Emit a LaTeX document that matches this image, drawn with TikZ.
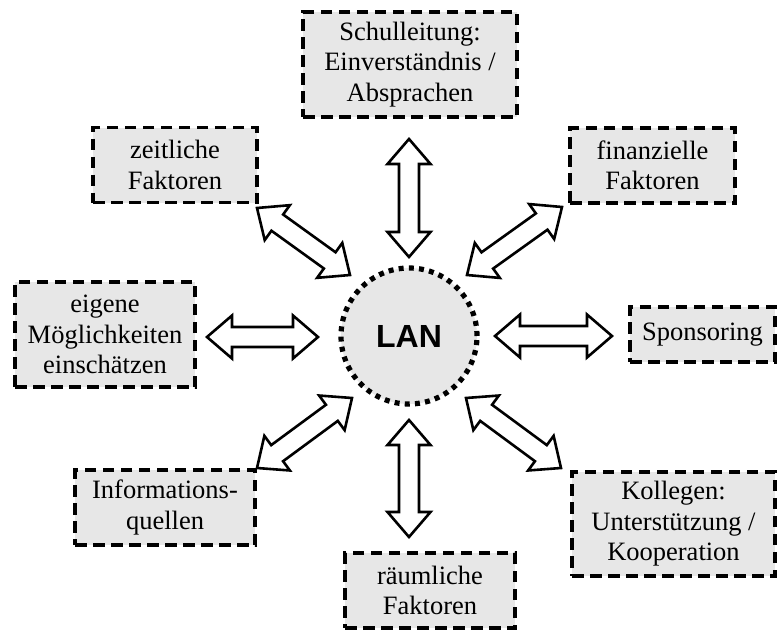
\documentclass[tikz,border=0pt]{standalone}
\usepackage{fontspec}
\setmainfont{Liberation Serif}
\newfontfamily\lansans{Liberation Sans}
\usetikzlibrary{calc}
\definecolor{boxgray}{HTML}{E7E7E7}
\tikzset{
 box/.style={draw, fill=boxgray, line width=3.1pt, dash pattern=on 11.5pt off 6.5pt, align=center, inner sep=0pt, font=\fontsize{26.5}{30.5}\selectfont},
 hub/.style={circle, draw, fill=boxgray, line width=5.2pt, dash pattern=on 5pt off 5.2pt, minimum size=136pt, inner sep=0pt, font=\lansans\bfseries\fontsize{32}{38}\selectfont},
 blk/.style={draw, fill=white, line width=2.6pt, line join=miter}
}
\newcommand\dblblk[2]{%
 \draw[blk] (#1) -- ($(#1)!25pt!(#2)!21.5pt!90:(#2)$) -- ($(#1)!25pt!(#2)!10pt!90:(#2)$) -- ($(#2)!25pt!(#1)!10pt!-90:(#1)$) -- ($(#2)!25pt!(#1)!21.5pt!-90:(#1)$) -- (#2) -- ($(#2)!25pt!(#1)!21.5pt!90:(#1)$) -- ($(#2)!25pt!(#1)!10pt!90:(#1)$) -- ($(#1)!25pt!(#2)!10pt!-90:(#2)$) -- ($(#1)!25pt!(#2)!21.5pt!-90:(#2)$) -- cycle;}
\begin{document}
\begin{tikzpicture}[x=1pt,y=-1pt]
\useasboundingbox (0,0) rectangle (777,635);
\node[hub] (lan) at (409,336) {LAN};
\node[box, minimum width=214pt, minimum height=105pt] (schul) at (410,64.5) {Schulleitung:\\Einverständnis /\\Absprachen};
\node[box, minimum width=164pt, minimum height=75pt] (zeit) at (175,165) {zeitliche\\Faktoren};
\node[box, minimum width=165pt, minimum height=75pt] (finanz) at (652.5,165.5) {finanzielle\\Faktoren};
\node[box, minimum width=180pt, minimum height=105pt] (eigen) at (105,334.5) {eigene\\Möglichkeiten\\einschätzen};
\node[box, minimum width=145pt, minimum height=55pt] (spons) at (702.5,334.5) {Sponsoring};
\node[box, minimum width=180pt, minimum height=75pt] (info) at (165,507.5) {Informations-\\quellen};
\node[box, minimum width=203pt, minimum height=104pt] (koll) at (673.5,524) {Kollegen:\\Unterstützung /\\Kooperation};
\node[box, minimum width=170pt, minimum height=75pt] (raum) at (430,590.5) {räumliche\\Faktoren};
\coordinate (t1) at (409,139); \coordinate (t2) at (409,257);
\coordinate (b1) at (409,420); \coordinate (b2) at (409,537);
\coordinate (l1) at (207,337); \coordinate (l2) at (318,337);
\coordinate (r1) at (495,336); \coordinate (r2) at (612,336);
\coordinate (ul1) at (257,208); \coordinate (ul2) at (350,275);
\coordinate (ur1) at (562,207); \coordinate (ur2) at (467,275);
\coordinate (ll1) at (257,468); \coordinate (ll2) at (352,398);
\coordinate (lr1) at (466,398); \coordinate (lr2) at (561,468);
\dblblk{t1}{t2}
\dblblk{b1}{b2}
\dblblk{l1}{l2}
\dblblk{r1}{r2}
\dblblk{ul1}{ul2}
\dblblk{ur1}{ur2}
\dblblk{ll1}{ll2}
\dblblk{lr1}{lr2}
\end{tikzpicture}
\end{document}
